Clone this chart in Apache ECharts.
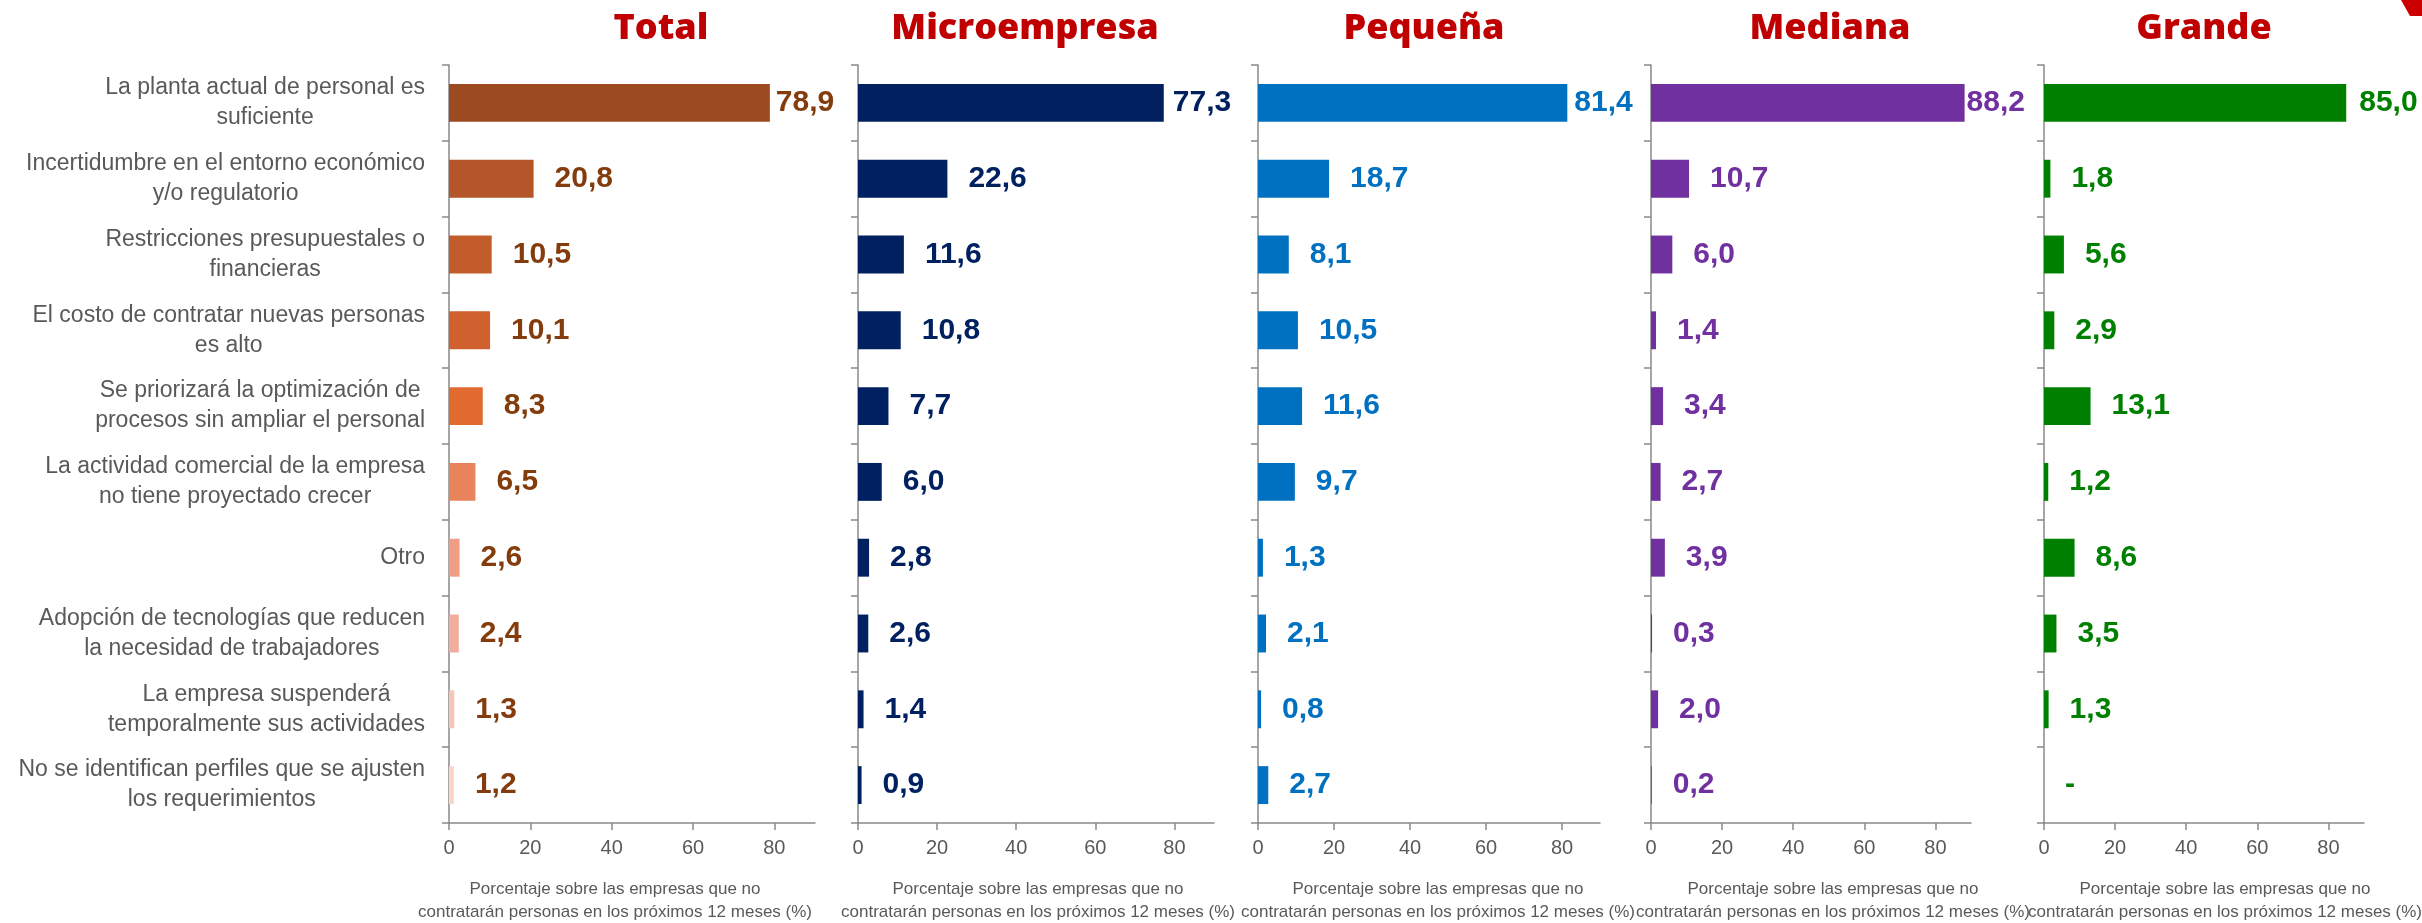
<!DOCTYPE html>
<html>
<head>
<meta charset="utf-8">
<script src="https://cdn.jsdelivr.net/npm/echarts@6/dist/echarts.min.js"></script>
<style>
  html, body { margin: 0; padding: 0; background: #ffffff; }
  #chart { width: 2422px; height: 923px; }
</style>
</head>
<body>
<div id="chart"></div>
<script>
// Reasons for not hiring, by company size (percent of firms that will not hire)
const categories = [
  'La planta actual de personal es\nsuficiente',
  'Incertidumbre en el entorno económico\ny/o regulatorio',
  'Restricciones presupuestales o\nfinancieras',
  'El costo de contratar nuevas personas\nes alto',
  'Se priorizará la optimización de\nprocesos sin ampliar el personal',
  'La actividad comercial de la empresa\nno tiene proyectado crecer',
  'Otro',
  'Adopción de tecnologías que reducen\nla necesidad de trabajadores',
  'La empresa suspenderá\ntemporalmente sus actividades',
  'No se identifican perfiles que se ajusten\nlos requerimientos'
];
const panelTitles = ['Total', 'Microempresa', 'Pequeña', 'Mediana', 'Grande'];
const totalValues   = [78.9, 20.8, 10.5, 10.1, 8.3, 6.5, 2.6, 2.4, 1.3, 1.2];
const microValues   = [77.3, 22.6, 11.6, 10.8, 7.7, 6.0, 2.8, 2.6, 1.4, 0.9];
const pequenaValues = [81.4, 18.7, 8.1, 10.5, 11.6, 9.7, 1.3, 2.1, 0.8, 2.7];
const medianaValues = [88.2, 10.7, 6.0, 1.4, 3.4, 2.7, 3.9, 0.3, 2.0, 0.2];
const grandeValues  = [85.0, 1.8, 5.6, 2.9, 13.1, 1.2, 8.6, 3.5, 1.3, 0];
const xTickValues = [0, 20, 40, 60, 80];
const axisNameLines = [
  'Porcentaje sobre las empresas que no',
  'contratarán personas en los próximos 12 meses (%)'
];

// Styling
const totalBarColors = ['#9C4A1F', '#B5552A', '#C35C2B', '#D0612E', '#E06A30',
                        '#E9835C', '#EF9D85', '#F2AE9C', '#F5C5B9', '#F8D5CD'];
const panels = [
  { values: totalValues,   bar: totalBarColors, label: '#843C0C', left: 449,  width: 366, titleX: 661,  nameX: 615,  firstGap: 6 },
  { values: microValues,   bar: '#002060',      label: '#002060', left: 858,  width: 356, titleX: 1025, nameX: 1038, firstGap: 9 },
  { values: pequenaValues, bar: '#0070C0',      label: '#0070C0', left: 1258, width: 342, titleX: 1424, nameX: 1438, firstGap: 7 },
  { values: medianaValues, bar: '#7030A0',      label: '#7030A0', left: 1651, width: 320, titleX: 1830, nameX: 1833, firstGap: 2 },
  { values: grandeValues,  bar: '#008000',      label: '#008000', left: 2044, width: 320, titleX: 2204, nameX: 2225, firstGap: 13 }
];

const AXIS_COLOR = '#898989';
const TEXT_GRAY = '#595959';
const FONT = '"Liberation Sans", Arial, sans-serif';
const GRID_TOP = 65;
const GRID_HEIGHT = 758;

const fmt = v => (v === 0 ? '-' : v.toFixed(1).replace('.', ','));

const grid = [], xAxis = [], yAxis = [], series = [], graphic = [];

panels.forEach((p, i) => {
  grid.push({ left: p.left, top: GRID_TOP, width: p.width, height: GRID_HEIGHT, containLabel: false });

  xAxis.push({
    type: 'value', gridIndex: i, min: 0, max: 90,
    splitLine: { show: false },
    axisLine: { show: true, lineStyle: { color: AXIS_COLOR, width: 1.5 } },
    axisTick: { show: true, length: 7, customValues: xTickValues, lineStyle: { color: AXIS_COLOR, width: 1.5 } },
    axisLabel: { customValues: xTickValues, color: TEXT_GRAY, fontSize: 20, fontFamily: FONT, margin: 15 }
  });

  yAxis.push({
    type: 'category', gridIndex: i, inverse: true, data: categories,
    axisLine: { show: true, lineStyle: { color: AXIS_COLOR, width: 1.5 } },
    axisTick: { show: true, length: 7, lineStyle: { color: AXIS_COLOR, width: 1.5 } },
    axisLabel: {
      show: i === 0, margin: 24, align: 'right',
      // each line centred within the right-aligned label block
      formatter: txt => txt.split('\n').map(l => '{c|' + l + '}').join('\n'),
      rich: {
        c: { align: 'center', color: TEXT_GRAY, fontSize: 23, lineHeight: 30, fontFamily: FONT }
      }
    }
  });

  series.push({
    type: 'bar', xAxisIndex: i, yAxisIndex: i, barWidth: '50%',
    data: p.values.map((v, k) => ({
      value: v,
      itemStyle: { color: Array.isArray(p.bar) ? p.bar[k] : p.bar },
      label: { distance: k === 0 ? p.firstGap : 21 }
    })),
    label: {
      show: true, position: 'right', color: p.label,
      fontFamily: FONT, fontWeight: 'bold', fontSize: 30,
      formatter: params => fmt(params.value)
    },
    animation: false
  });

  graphic.push({
    type: 'text', x: p.titleX, y: 29,
    style: {
      text: panelTitles[i], fill: '#C00000',
      font: '800 36px "Open Sans", "Noto Sans", sans-serif',
      align: 'center', verticalAlign: 'middle'
    }
  });
  axisNameLines.forEach((line, j) => {
    graphic.push({
      type: 'text', x: p.nameX, y: 889 + j * 23,
      style: {
        text: line, fill: TEXT_GRAY, font: '17px ' + FONT,
        align: 'center', verticalAlign: 'middle'
      }
    });
  });
});

// Corner mark in the top-right
graphic.push({
  type: 'polygon',
  shape: { points: [[2401, 0], [2422, 0], [2422, 16], [2410, 16]] },
  style: { fill: '#CC0000' }
});

const chart = echarts.init(document.getElementById('chart'), null, { renderer: 'canvas' });
chart.setOption({
  backgroundColor: '#ffffff',
  animation: false,
  grid, xAxis, yAxis, series, graphic
});
</script>
</body>
</html>
